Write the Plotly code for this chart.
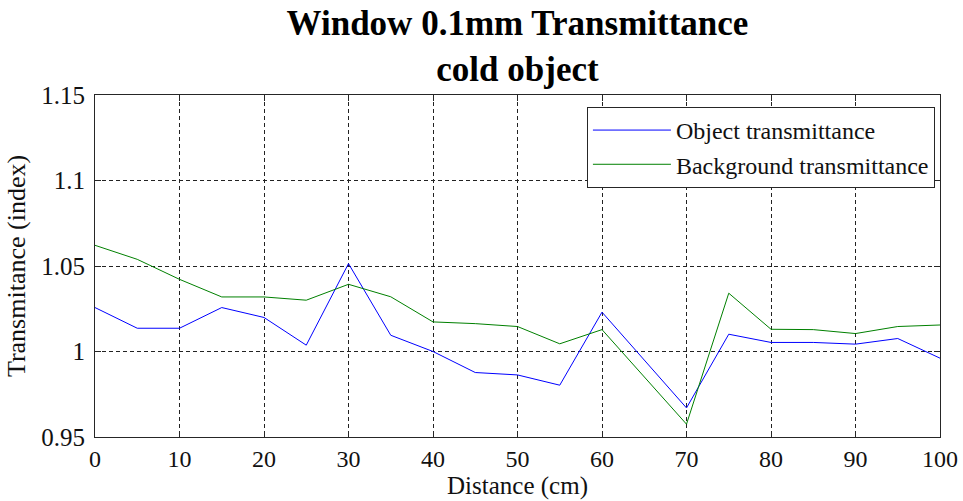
import plotly.graph_objects as go

# Distance along the window (cm)
distance_cm = [0, 5, 10, 15, 20, 25, 30, 35, 40, 45, 50, 55, 60, 65, 70, 75, 80, 85, 90, 95, 100]

# Measured transmittance indices
object_trans = [1.0257, 1.0136, 1.0136, 1.0257, 1.0199, 1.0037, 1.0514, 1.0095, 1.0000,
                0.9877, 0.9863, 0.9803, 1.0230, 0.9950, 0.9670, 1.0101, 1.0053, 1.0053,
                1.0043, 1.0076, 0.9961]
background_trans = [1.0621, 1.0539, 1.0422, 1.0319, 1.0319, 1.0300, 1.0393, 1.0320, 1.0173,
                    1.0163, 1.0146, 1.0045, 1.0128, 0.9850, 0.9575, 1.0341, 1.0130, 1.0128,
                    1.0105, 1.0146, 1.0155]

x_ticks = [0, 10, 20, 30, 40, 50, 60, 70, 80, 90, 100]
y_ticks = [0.95, 1.0, 1.05, 1.1, 1.15]
y_tick_text = ["0.95", "1", "1.05", "1.1", "1.15"]

SERIF = "Liberation Serif, Times New Roman, serif"

fig = go.Figure()
fig.add_trace(go.Scatter(x=distance_cm, y=object_trans, mode="lines",
                         name="Object transmittance",
                         line=dict(color="#0000FF", width=1)))
fig.add_trace(go.Scatter(x=distance_cm, y=background_trans, mode="lines",
                         name="Background transmittance",
                         line=dict(color="#008000", width=1)))

axis_common = dict(
    showline=True, linecolor="#262626", linewidth=1, mirror="ticks",
    ticks="inside", ticklen=6, tickcolor="#262626", tickwidth=1,
    showgrid=True, gridcolor="#222222", gridwidth=1, griddash="4px,3px",
    zeroline=False,
)

fig.update_xaxes(range=[0, 100], tickvals=x_ticks, **axis_common,
                 tickfont=dict(family=SERIF, size=24, color="#111111"),
                 title=dict(text="Distance (cm)", standoff=4,
                            font=dict(family=SERIF, size=25, color="#111111")))
fig.update_yaxes(range=[0.95, 1.15], tickvals=y_ticks, ticktext=y_tick_text, **axis_common,
                 tickfont=dict(family=SERIF, size=25, color="#111111"),
                 ticklabelstandoff=4,
                 title=dict(text="Transmitance (index)", standoff=8,
                            font=dict(family=SERIF, size=26, color="#111111")))

fig.update_layout(
    width=963, height=501,
    margin=dict(l=95, r=23, t=95, b=64, autoexpand=False),
    paper_bgcolor="white", plot_bgcolor="white",
    title=dict(text="<b>Window 0.1mm Transmittance<br>cold object</b>",
               x=0.5, xref="paper", xanchor="center",
               y=0.93, yref="container", yanchor="middle",
               font=dict(family=SERIF, size=35, color="#000000")),
    legend=dict(x=0.994, y=0.965, xanchor="right", yanchor="top",
                bgcolor="white", bordercolor="#262626", borderwidth=1,
                font=dict(family=SERIF, size=24, color="#111111"),
                itemwidth=78),
    showlegend=True,
)

fig.write_html("out.html")
